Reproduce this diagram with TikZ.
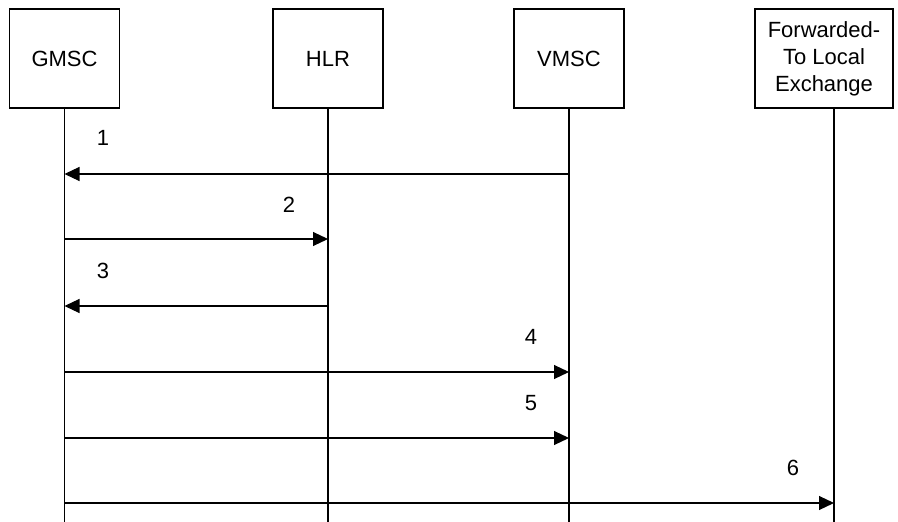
\documentclass[tikz,border=0pt]{standalone}
\usepackage{fontspec}
\setmainfont{Liberation Sans}
\usetikzlibrary{arrows.meta}
\begin{document}
\begin{tikzpicture}[x=1pt,y=1pt,
  entity/.style={draw,line width=1.4pt,minimum height=99pt,inner sep=0pt,align=center,font=\fontsize{22}{27}\selectfont},
  life/.style={line width=1.1pt},
  msg/.style={line width=1.1pt,-{Triangle[length=15pt,width=14pt]}},
  lbl/.style={font=\fontsize{22}{27}\selectfont,inner sep=0pt}]
\useasboundingbox (0,0) rectangle (898,-522);
\node[entity,minimum width=110pt] (gmsc) at (64.5,-58.5) {GMSC};
\node[entity,minimum width=110pt] (hlr) at (328,-58.5) {HLR};
\node[entity,minimum width=110pt] (vmsc) at (569,-58.5) {VMSC};
\node[entity,minimum width=138pt] (fwd) at (824,-58.5) {Forwarded-\\To Local\\Exchange};
% lifelines
\coordinate (gtop) at (64.5,-108);
\coordinate (htop) at (328,-108);
\coordinate (vtop) at (569,-108);
\coordinate (ftop) at (834,-108);
\coordinate (gbot) at (64.5,-522);
\coordinate (hbot) at (328,-522);
\coordinate (vbot) at (569,-522);
\coordinate (fbot) at (834,-522);
\draw[life] (gtop) -- (gbot);
\draw[life] (htop) -- (hbot);
\draw[life] (vtop) -- (vbot);
\draw[life] (ftop) -- (fbot);
% message points
\coordinate (g1) at (64.5,-174); \coordinate (v1) at (569,-174);
\coordinate (g2) at (64.5,-239); \coordinate (h2) at (328,-239);
\coordinate (g3) at (64.5,-306); \coordinate (h3) at (328,-306);
\coordinate (g4) at (64.5,-372); \coordinate (v4) at (569,-372);
\coordinate (g5) at (64.5,-438); \coordinate (v5) at (569,-438);
\coordinate (g6) at (64.5,-503); \coordinate (f6) at (834,-503);
\draw[msg] (v1) -- (g1);
\draw[msg] (g2) -- (h2);
\draw[msg] (h3) -- (g3);
\draw[msg] (g4) -- (v4);
\draw[msg] (g5) -- (v5);
\draw[msg] (g6) -- (f6);
\node[lbl] (l1) at (103,-138) {1};
\node[lbl] (l2) at (289,-205) {2};
\node[lbl] (l3) at (103,-271) {3};
\node[lbl] (l4) at (531,-337) {4};
\node[lbl] (l5) at (531,-403) {5};
\node[lbl] (l6) at (793,-468) {6};
\end{tikzpicture}
\end{document}
